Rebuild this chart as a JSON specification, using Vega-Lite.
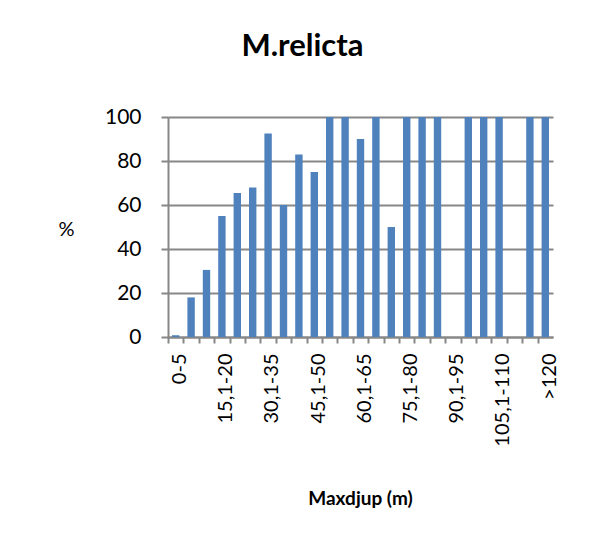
{
  "$schema": "https://vega.github.io/schema/vega-lite/v6.json",
  "width": 385,
  "height": 220,
  "autosize": {"type": "none"},
  "padding": {"left": 168, "top": 117, "right": 40, "bottom": 201},
  "background": "white",
  "title": {
    "text": "M.relicta",
    "font": "Lato",
    "fontSize": 31,
    "fontWeight": "bold",
    "color": "#000000",
    "anchor": "middle",
    "dx": -58,
    "offset": 43
  },
  "data": {
    "values": [
      {"djup": "0-5", "pct": 0.8},
      {"djup": "5,1-10", "pct": 18},
      {"djup": "10,1-15", "pct": 30.5},
      {"djup": "15,1-20", "pct": 55},
      {"djup": "20,1-25", "pct": 65.5},
      {"djup": "25,1-30", "pct": 68},
      {"djup": "30,1-35", "pct": 92.5},
      {"djup": "35,1-40", "pct": 60},
      {"djup": "40,1-45", "pct": 83},
      {"djup": "45,1-50", "pct": 75},
      {"djup": "50,1-55", "pct": 100},
      {"djup": "55,1-60", "pct": 100},
      {"djup": "60,1-65", "pct": 90},
      {"djup": "65,1-70", "pct": 100},
      {"djup": "70,1-75", "pct": 50},
      {"djup": "75,1-80", "pct": 100},
      {"djup": "80,1-85", "pct": 100},
      {"djup": "85,1-90", "pct": 100},
      {"djup": "90,1-95", "pct": 0},
      {"djup": "95,1-100", "pct": 100},
      {"djup": "100,1-105", "pct": 100},
      {"djup": "105,1-110", "pct": 100},
      {"djup": "110,1-115", "pct": 0},
      {"djup": "115,1-120", "pct": 100},
      {"djup": ">120", "pct": 100}
    ]
  },
  "mark": {"type": "bar", "color": "#4F81BD"},
  "encoding": {
    "x": {
      "field": "djup",
      "type": "nominal",
      "sort": null,
      "scale": {"paddingInner": 0.52, "paddingOuter": 0.26},
      "axis": {
        "title": "Maxdjup (m)",
        "titleFont": "Lato",
        "titleFontSize": 19,
        "titleFontWeight": "bold",
        "titleColor": "#000000",
        "titleX": 192,
        "titleY": 161,
        "titleBaseline": "middle",
        "labelFont": "Lato",
        "labelFontSize": 20,
        "labelColor": "#000000",
        "labelAngle": -90,
        "labelAlign": "right",
        "labelBaseline": "middle",
        "labelPadding": 10,
        "tickOffset": -4,
        "labelOffset": 7.7,
        "labelExpr": "indexof(['0-5','15,1-20','30,1-35','45,1-50','60,1-65','75,1-80','90,1-95','105,1-110','>120'], datum.value) >= 0 ? datum.label : ''",
        "bandPosition": 0,
        "tickColor": "#878787",
        "tickWidth": 2,
        "tickSize": 6,
        "domainColor": "#878787",
        "domainWidth": 2,
        "grid": false
      }
    },
    "y": {
      "field": "pct",
      "type": "quantitative",
      "scale": {"domain": [0, 100]},
      "axis": {
        "title": "%",
        "titleFont": "Lato",
        "titleFontSize": 20,
        "titleFontWeight": "normal",
        "titleColor": "#000000",
        "titleAngle": 0,
        "titleX": -102,
        "titleY": 112,
        "titleAlign": "center",
        "titleBaseline": "middle",
        "values": [0, 20, 40, 60, 80, 100],
        "labelFont": "Lato",
        "labelFontSize": 21,
        "labelColor": "#000000",
        "labelPadding": 20,
        "tickColor": "#878787",
        "tickWidth": 2,
        "tickSize": 7,
        "domainColor": "#878787",
        "domainWidth": 2,
        "grid": true,
        "gridColor": "#878787",
        "gridWidth": 2
      }
    }
  },
  "config": {"view": {"stroke": null}}
}
